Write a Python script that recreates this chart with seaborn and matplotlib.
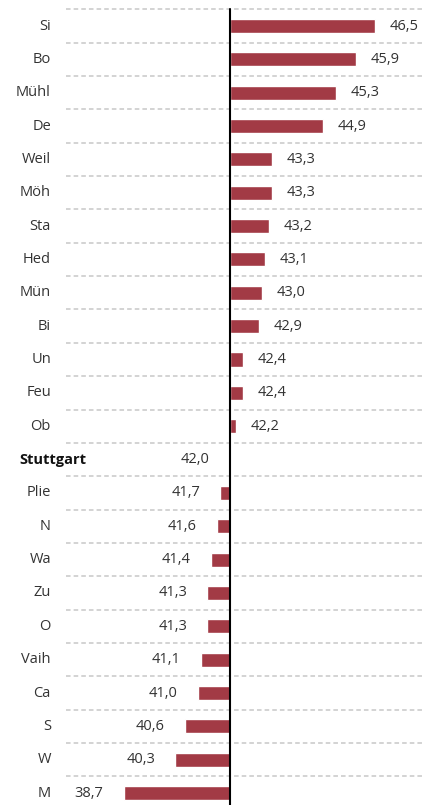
import matplotlib
matplotlib.use("Agg")
import matplotlib.pyplot as plt
import seaborn as sns
import pandas as pd

categories = ["Si", "Bo", "Mühl", "De", "Weil", "Möh", "Sta", "Hed", "Mün", "Bi",
              "Un", "Feu", "Ob", "Stuttgart", "Plie", "N", "Wa", "Zu", "O", "Vaih",
              "Ca", "S", "W", "M"]
values = [46.5, 45.9, 45.3, 44.9, 43.3, 43.3, 43.2, 43.1, 43.0, 42.9,
          42.4, 42.4, 42.2, 42.0, 41.7, 41.6, 41.4, 41.3, 41.3, 41.1,
          41.0, 40.6, 40.3, 38.7]
reference = 42.0
highlight = "Stuttgart"

sns.set_theme(style="white")
plt.rcParams["font.family"] = ["Open Sans", "DejaVu Sans"]

df = pd.DataFrame({"cat": categories, "val": values})
df["diff"] = df["val"] - reference

W, H = 431, 805
fig = plt.figure(figsize=(W / 100, H / 100), dpi=100)
ax = fig.add_axes([0, 0, 1, 1])

PX = 32.2  # pixels per unit
x0 = 230
def px2x(p):
    return (p - x0) / PX

n = len(categories)
row0, step = 26, 33.35

# dashed separators
for k in range(n):
    ax.plot([px2x(66), px2x(423)], [k - 0.5, k - 0.5], color="#c8c8c8",
            lw=1.1, ls=(0, (3, 2)), zorder=1)

sns.barplot(data=df, x="diff", y="cat", orient="h", color="#a23a45",
            saturation=1, width=0.42, ax=ax, zorder=2)

ax.plot([0, 0], [-0.5, (H - row0) / step], color="black", lw=1.5, zorder=3)

txt = "#333333"
fs = 10.5
for i, (c, v, d) in enumerate(zip(categories, values, df["diff"])):
    s = f"{v:.1f}".replace(".", ",")
    if c == highlight:
        ax.text(px2x(19), i, c, ha="left", va="center", fontsize=fs,
                fontweight="bold", color="#111111")
        ax.annotate(s, (0, i), xytext=(-14.5, 0), textcoords="offset points",
                    ha="right", va="center", fontsize=fs, color=txt)
    else:
        ax.text(px2x(51), i, c, ha="right", va="center", fontsize=fs, color=txt)
        if d > 0:
            ax.annotate(s, (d, i), xytext=(10.5, 0), textcoords="offset points",
                        ha="left", va="center", fontsize=fs, color=txt)
        else:
            ax.annotate(s, (d, i), xytext=(-14.5, 0), textcoords="offset points",
                        ha="right", va="center", fontsize=fs, color=txt)

ax.set_xlim(px2x(0), px2x(W))
ax.set_ylim((H - row0) / step, -row0 / step)
ax.axis("off")
fig.savefig("out.png", dpi=100)
